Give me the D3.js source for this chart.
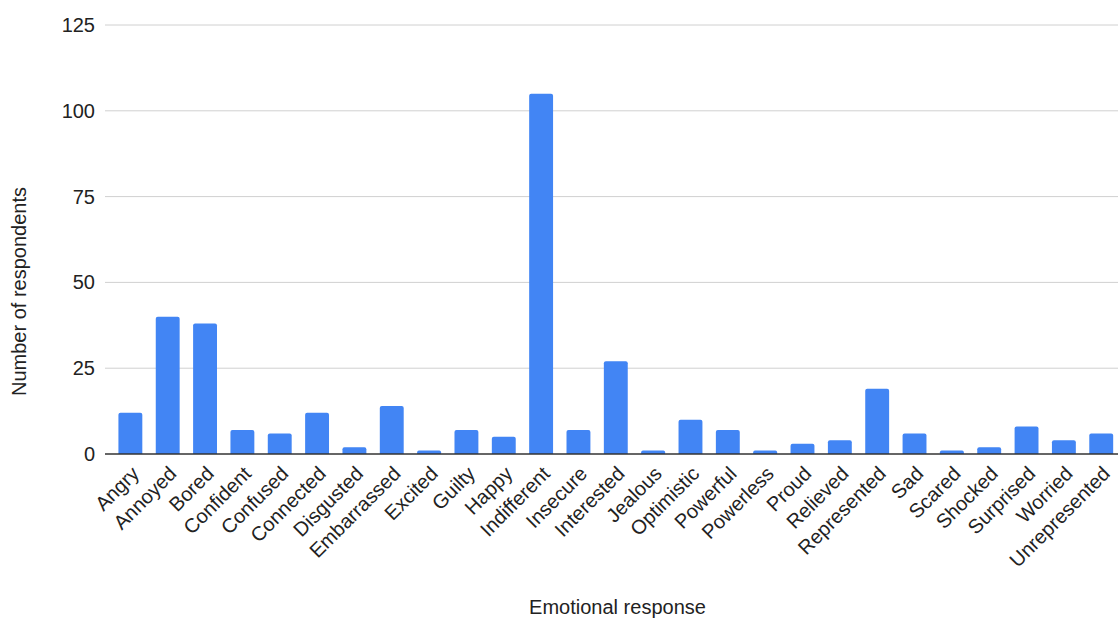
<!DOCTYPE html>
<html>
<head>
<meta charset="utf-8">
<script src="https://cdn.jsdelivr.net/npm/d3@7"></script>
<style>
  html, body { margin: 0; padding: 0; background: #fff; }
  svg { display: block; font-family: "Liberation Sans", Arial, Helvetica, sans-serif; }
</style>
</head>
<body>
<svg id="chart" width="1118" height="618"></svg>
<script>
// Emotional responses and respondent counts
const categories = [
  "Angry", "Annoyed", "Bored", "Confident", "Confused", "Connected", "Disgusted",
  "Embarrassed", "Excited", "Guilty", "Happy", "Indifferent", "Insecure", "Interested",
  "Jealous", "Optimistic", "Powerful", "Powerless", "Proud", "Relieved", "Represented",
  "Sad", "Scared", "Shocked", "Surprised", "Worried", "Unrepresented"
];
const respondents = [
  12, 40, 38, 7, 6, 12, 2,
  14, 1, 7, 5, 105, 7, 27,
  1, 10, 7, 1, 3, 4, 19,
  6, 1, 2, 8, 4, 6
];
const yTicks = [0, 25, 50, 75, 100, 125];
const xTitle = "Emotional response";
const yTitle = "Number of respondents";

const data = categories.map((c, i) => ({ category: c, value: respondents[i] }));

const svg = d3.select("#chart");
const plot = { left: 105, right: 1118, top: 25, bottom: 454 };

const x = d3.scaleBand()
  .domain(categories)
  .range([111.7, 1119.9])
  .paddingInner(0.36)
  .paddingOuter(0.18);

const y = d3.scaleLinear()
  .domain([0, 125])
  .range([plot.bottom, plot.top]);

// horizontal gridlines
svg.append("g")
  .selectAll("line")
  .data(yTicks.filter(t => t !== 0))
  .join("line")
  .attr("x1", plot.left)
  .attr("x2", plot.right)
  .attr("y1", d => y(d))
  .attr("y2", d => y(d))
  .attr("stroke", "#d0d0d0")
  .attr("stroke-width", 1);

// y-axis tick labels
const yAxis = d3.axisLeft(y).tickValues(yTicks).tickSize(0).tickPadding(10);
const gy = svg.append("g")
  .attr("transform", `translate(${plot.left},0)`)
  .call(yAxis);
gy.select(".domain").remove();
gy.selectAll("text")
  .attr("font-size", 20)
  .attr("fill", "#222")
  .attr("font-family", "Liberation Sans, Arial, sans-serif");

// bars with slightly rounded tops
const r = 2;
svg.append("g")
  .selectAll("path")
  .data(data)
  .join("path")
  .attr("fill", "#4285f4")
  .attr("d", d => {
    const x0 = x(d.category), w = x.bandwidth();
    const yt = y(d.value), yb = y(0);
    const rr = Math.min(r, (yb - yt) / 2);
    return `M${x0},${yb}V${yt + rr}Q${x0},${yt} ${x0 + rr},${yt}` +
      `H${x0 + w - rr}Q${x0 + w},${yt} ${x0 + w},${yt + rr}V${yb}Z`;
  });

// baseline
svg.append("line")
  .attr("x1", plot.left)
  .attr("x2", plot.right)
  .attr("y1", y(0))
  .attr("y2", y(0))
  .attr("stroke", "#333")
  .attr("stroke-width", 1.5);

// rotated category labels
const xAxis = d3.axisBottom(x).tickSize(0).tickPadding(0);
const gx = svg.append("g")
  .attr("transform", `translate(0,${y(0)})`)
  .call(xAxis);
gx.select(".domain").remove();
gx.selectAll(".tick text")
  .attr("font-size", 20)
  .attr("fill", "#222")
  .attr("font-family", "Liberation Sans, Arial, sans-serif")
  .attr("text-anchor", "end")
  .attr("dy", null)
  .attr("y", null)
  .attr("transform", "translate(10,21) rotate(-45)");

// axis titles
svg.append("text")
  .attr("x", (plot.left + plot.right) / 2 + 6)
  .attr("y", 614)
  .attr("text-anchor", "middle")
  .attr("font-size", 20)
  .attr("fill", "#222")
  .text(xTitle);

svg.append("text")
  .attr("transform", `translate(26,${(plot.top + plot.bottom) / 2 + 52}) rotate(-90)`)
  .attr("text-anchor", "middle")
  .attr("font-size", 20)
  .attr("fill", "#222")
  .text(yTitle);
</script>
</body>
</html>
